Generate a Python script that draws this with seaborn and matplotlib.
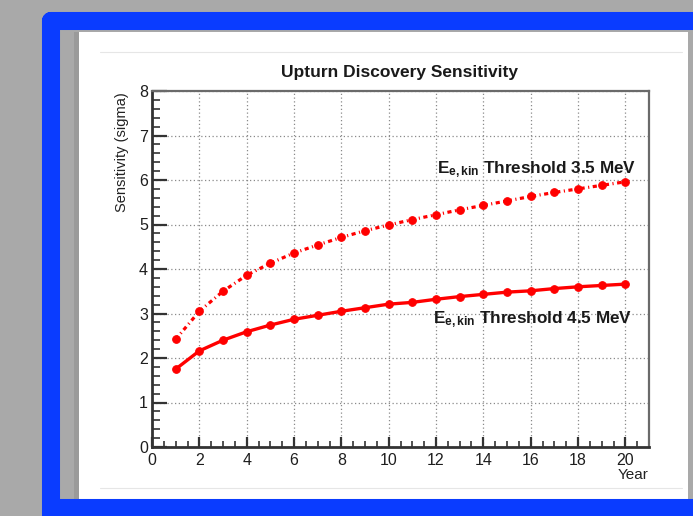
import numpy as np
import pandas as pd
import matplotlib
matplotlib.use("Agg")
import matplotlib.pyplot as plt
from matplotlib.ticker import MultipleLocator
from matplotlib.lines import Line2D
from matplotlib.patches import Rectangle
import seaborn as sns

# ---- data ----
years = list(range(1, 21))
sens_35 = [2.42, 3.05, 3.50, 3.86, 4.13, 4.36, 4.54, 4.71, 4.86, 4.99,
           5.11, 5.22, 5.33, 5.43, 5.53, 5.63, 5.72, 5.80, 5.88, 5.96]
sens_45 = [1.75, 2.16, 2.40, 2.59, 2.74, 2.87, 2.96, 3.05, 3.13, 3.21,
           3.25, 3.32, 3.38, 3.43, 3.48, 3.51, 3.56, 3.60, 3.63, 3.66]
label_35 = r"E$_{\mathbf{e,kin}}$ Threshold 3.5 MeV"
label_45 = r"E$_{\mathbf{e,kin}}$ Threshold 4.5 MeV"
title = "Upturn Discovery Sensitivity"
xlabel = "Year"
ylabel = "Sensitivity (sigma)"
xticks = [0, 2, 4, 6, 8, 10, 12, 14, 16, 18, 20]
yticks = [0, 1, 2, 3, 4, 5, 6, 7, 8]

df35 = pd.DataFrame({"year": years, "sens": sens_35})
df45 = pd.DataFrame({"year": years, "sens": sens_45})

sns.set_theme(style="white")
plt.rcParams["font.family"] = ["Liberation Sans", "DejaVu Sans"]
plt.rcParams["mathtext.fontset"] = "custom"
plt.rcParams["mathtext.rm"] = "Liberation Sans"
plt.rcParams["mathtext.bf"] = "Liberation Sans:bold"
plt.rcParams["mathtext.it"] = "Liberation Sans:italic"

W, H = 693, 516
fig = plt.figure(figsize=(W / 100, H / 100), dpi=100)
fig.patch.set_facecolor("#a9a9a9")

def fx(px):
    return px / W

def fy(py):
    return 1 - py / H

# white page with slight shadow
fig.patches.append(Rectangle((fx(74), fy(503)), fx(688) - fx(74), fy(32) - fy(503),
                             transform=fig.transFigure, facecolor="#9a9a9a",
                             edgecolor="none", zorder=0))
fig.patches.append(Rectangle((fx(79), fy(503)), fx(688) - fx(79), fy(32) - fy(503),
                             transform=fig.transFigure, facecolor="white",
                             edgecolor="none", zorder=0))
# faint canvas lines
for py in (52, 488):
    fig.add_artist(Line2D([fx(100), fx(682)], [fy(py), fy(py)], transform=fig.transFigure,
                          color="#e6e6e6", lw=0.8, zorder=1))

# blue hand-drawn-like border
blue = "#0a3cff"
L, T, B, R = 51, 21, 508, 699
for off, lw, a in [(0, 13, 1.0), (-3, 6, 0.8), (3, 6, 0.8)]:
    xs = [L + off, R, R, L + off, L + off]
    ys = [T + off, T + off, B - off, B - off, T + off]
    fig.add_artist(Line2D([fx(v) for v in xs], [fy(v) for v in ys],
                          transform=fig.transFigure, color=blue, lw=lw,
                          alpha=a, solid_joinstyle="miter", zorder=2))

# axes
ax = fig.add_axes([fx(152), fy(447), fx(649) - fx(152), fy(91) - fy(447)])
ax.set_zorder(5)
ax.set_facecolor("white")

red = "#ff0000"
sns.lineplot(data=df35, x="year", y="sens", ax=ax, color=red, lw=2.3,
             marker="o", markersize=5.5, markeredgecolor=red,
             linestyle=(0, (1.3, 1.1, 0.35, 1.1)), zorder=4)
sns.lineplot(data=df45, x="year", y="sens", ax=ax, color=red, lw=2.4,
             marker="o", markersize=5.5, markeredgecolor=red, zorder=4)

ax.set_xlim(0, 21)
ax.set_ylim(0, 8)
ax.set_xticks(xticks)
ax.set_yticks(yticks)
ax.xaxis.set_minor_locator(MultipleLocator(0.5))
ax.yaxis.set_minor_locator(MultipleLocator(0.2))
ax.tick_params(axis="both", which="both", direction="in", color="#333333",
               labelsize=11.5, labelcolor="#1e1e1e")
ax.tick_params(axis="y", which="major", length=11, width=1.6, pad=3)
ax.tick_params(axis="y", which="minor", length=5.5, width=1.2)
ax.tick_params(axis="x", which="major", length=7, width=1.6, pad=4)
ax.tick_params(axis="x", which="minor", length=4, width=1.2)
ax.tick_params(left=True, bottom=True, top=False, right=False, which="both")
ax.grid(True, which="major", color="#8a8a8a", lw=0.9, linestyle=(0, (1, 2)))
ax.set_xlabel("")
ax.set_ylabel("")

for side in ("left", "bottom"):
    ax.spines[side].set_color("#333333")
    ax.spines[side].set_linewidth(2.0)
for side in ("top", "right"):
    ax.spines[side].set_color("#6a6a6a")
    ax.spines[side].set_linewidth(1.6)

ax.text(20.45, 6.23, label_35, ha="right", va="center", fontsize=12.3,
        fontweight="bold", color="#1a1a1a")
ax.text(20.3, 2.86, label_45, ha="right", va="center", fontsize=12.3,
        fontweight="bold", color="#1a1a1a")

fig.text(fx(400), fy(72), title, ha="center", va="center", fontsize=12.5,
         fontweight="bold", color="#1a1a1a", zorder=6)
fig.text(fx(649), fy(475), xlabel, ha="right", va="center", fontsize=11,
         color="#222222", zorder=6)
fig.text(fx(122), fy(92), ylabel, ha="center", va="top", rotation=90,
         fontsize=10.5, color="#222222", zorder=6)

fig.savefig("out.png", dpi=100, facecolor=fig.get_facecolor())
